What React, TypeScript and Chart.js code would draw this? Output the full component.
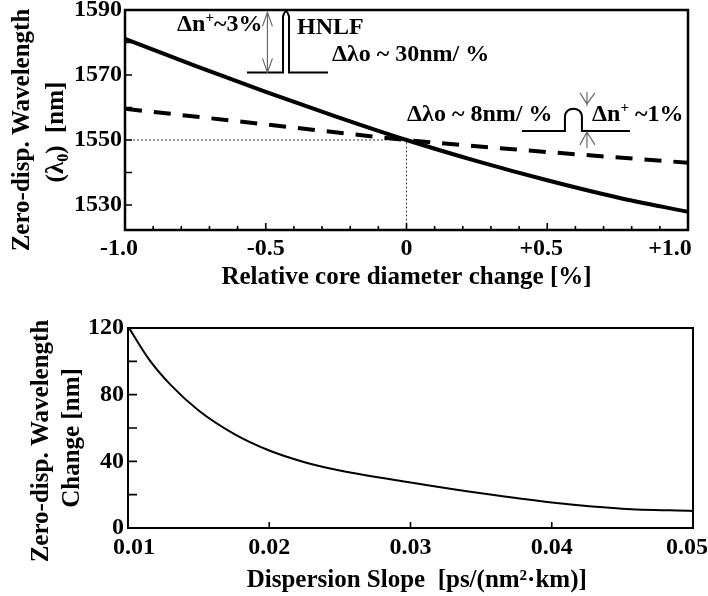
import React, { useEffect, useRef } from 'react';
import { Chart, registerables } from 'chart.js';

Chart.register(...registerables);

const FONT = '"Liberation Serif", "Times New Roman", Times, serif';

// ---------- Top panel data ----------
const coreChange = [-1.0, -0.75, -0.5, -0.25, 0, 0.25, 0.5, 0.75, 1.0];
const hnlfLambda0 = [1581.1, 1572.8, 1564.8, 1557.2, 1550.0, 1543.5, 1537.6, 1532.3, 1527.9];
const coreChangeLow = [-1.0, -0.5, 0, 0.5, 1.0];
const lowIndexLambda0 = [1559.6, 1554.8, 1550.0, 1546.3, 1543.0];
const TOP_Y_MIN = 1522.3;
const TOP_Y_MAX = 1590;
const refCore = [-1.0, 0, 0];
const refLambda0 = [1550, 1550, TOP_Y_MIN];

const topXTicks = [-1.0, -0.5, 0, 0.5, 1.0];
const topXTickLabels = ['-1.0\u2002', '-0.5', '0', '+0.5\u2002', '+1.0\u2002\u2002\u2002'];
const topXMajorMarks = [-0.5, 0, 0.5];
const topXMinorMarks = [-0.9, -0.8, -0.7, -0.6, -0.4, -0.3, -0.2, -0.1, 0.1, 0.2, 0.3, 0.4, 0.6, 0.7, 0.8, 0.9];
const topYTicks = [1530, 1550, 1570, 1590];
const topYTickLabels = ['1530', '1550', '1570', '1590'];
const topYMarks = [1530, 1540, 1550, 1560, 1570, 1580];

// ---------- Bottom panel data ----------
const dispSlope = [0.010, 0.0115, 0.013, 0.015, 0.0175, 0.020, 0.0225, 0.025, 0.030, 0.035, 0.040, 0.045, 0.050];
const lambda0Change = [121, 101, 86, 70.5, 56.5, 46.5, 39.5, 34.5, 27.3, 20.8, 15.3, 11.6, 10.2];
const botXTicks = [0.01, 0.02, 0.03, 0.04, 0.05];
const botXTickLabels = ['\u20020.01', '0.02', '0.03', '0.04', '0.05\u2002'];
const botXMarks = [0.02, 0.03, 0.04];
const botYTicks = [0, 40, 80, 120];
const botYTickLabels = ['0', '40', '80', '120'];
const botYMarks = [20, 40, 60, 80, 100];

type Seg = { t: string; sup?: boolean; sub?: boolean };

// annotation anchors (data coordinates)
const topNotes: { segs: Seg[]; x: number; y: number }[] = [
  { segs: [{ t: 'Δn' }, { t: '+', sup: true }, { t: '~3%' }], x: -0.815, y: 1585.4 },
  { segs: [{ t: 'HNLF' }], x: -0.389, y: 1584.5 },
  { segs: [{ t: 'Δλo ~ 30nm/ %' }], x: -0.265, y: 1576.2 },
  { segs: [{ t: 'Δλo ~ 8nm/ %' }], x: 0.002, y: 1557.7 },
  { segs: [{ t: 'Δn' }, { t: '+', sup: true }, { t: ' ~1%' }], x: 0.659, y: 1557.7 },
];
const hnlfProfileAt = { x: -0.428, y: 1570.8 };
const hnlfArrowAt = { x: -0.494, y: 1570.8 };
const lowProfileAt = { x: 0.593, y: 1552.8 };
const lowArrowsAt = { x: 0.641, y: 1552.8 };

function drawRich(ctx: CanvasRenderingContext2D, segs: Seg[], x: number, y: number, size: number, align: 'left' | 'center') {
  const base = `bold ${size}px ${FONT}`;
  const small = `bold ${Math.round(size * 0.62)}px ${FONT}`;
  let total = 0;
  const widths = segs.map((s) => {
    ctx.font = s.sup || s.sub ? small : base;
    const w = ctx.measureText(s.t).width;
    total += w;
    return w;
  });
  let cx = align === 'center' ? x - total / 2 : x;
  ctx.textBaseline = 'middle';
  ctx.textAlign = 'left';
  ctx.fillStyle = '#000';
  segs.forEach((s, i) => {
    ctx.font = s.sup || s.sub ? small : base;
    const dy = s.sup ? -size * 0.3 : s.sub ? size * 0.28 : 0;
    ctx.fillText(s.t, cx, y + dy);
    cx += widths[i];
  });
}

const fixBox = (w?: number, h?: number) => (s: any) => {
  if (w !== undefined) s.width = w;
  if (h !== undefined) s.height = h;
  s.paddingLeft = 0;
  s.paddingRight = 0;
  s.paddingTop = 0;
  s.paddingBottom = 0;
};

const tickFont = { family: FONT, size: 24, weight: 'bold' as const };
const titleFont = { family: FONT, size: 25, weight: 'bold' as const };

function frameTicksPlugin(o: {
  frame: number;
  xMarks: { v: number[]; len: number }[];
  yMarks: { v: number[]; len: number }[];
}) {
  return {
    id: 'frameTicks',
    afterDraw(chart: any) {
      const { ctx, chartArea: a, scales } = chart;
      const x = scales.x;
      const y = scales.y;
      ctx.save();
      ctx.strokeStyle = '#000';
      ctx.lineWidth = 1.6;
      ctx.beginPath();
      o.xMarks.forEach((g) =>
        g.v.forEach((v) => {
          const px = x.getPixelForValue(v);
          ctx.moveTo(px, a.bottom);
          ctx.lineTo(px, a.bottom - g.len);
        })
      );
      o.yMarks.forEach((g) =>
        g.v.forEach((v) => {
          const py = y.getPixelForValue(v);
          ctx.moveTo(a.left, py);
          ctx.lineTo(a.left + g.len, py);
        })
      );
      ctx.stroke();
      ctx.lineWidth = o.frame;
      ctx.strokeRect(a.left, a.top, a.right - a.left, a.bottom - a.top);
      ctx.restore();
    },
  };
}

function yTitlePlugin(lines: { segs: Seg[]; x: number; y: number }[]) {
  return {
    id: 'yTitle',
    afterDraw(chart: any) {
      const ctx = chart.ctx as CanvasRenderingContext2D;
      lines.forEach((l) => {
        ctx.save();
        ctx.translate(l.x, l.y);
        ctx.rotate(-Math.PI / 2);
        drawRich(ctx, l.segs, 0, 0, 25, 'center');
        ctx.restore();
      });
    },
  };
}

const notesPlugin = {
  id: 'topNotes',
  afterDatasetsDraw(chart: any) {
    const { ctx, scales } = chart;
    const P = (p: { x: number; y: number }) => [scales.x.getPixelForValue(p.x), scales.y.getPixelForValue(p.y)];
    ctx.save();
    topNotes.forEach((n) => {
      const [px, py] = P(n);
      drawRich(ctx, n.segs, px, py, 24, 'left');
    });
    // HNLF index profile
    ctx.strokeStyle = '#000';
    ctx.lineWidth = 2;
    let [ax, ay] = P(hnlfProfileAt);
    ctx.beginPath();
    ctx.moveTo(ax - 39, ay);
    ctx.lineTo(ax - 3, ay);
    ctx.lineTo(ax - 3, ay - 56);
    ctx.quadraticCurveTo(ax, ay - 66, ax + 3, ay - 56);
    ctx.lineTo(ax + 3, ay);
    ctx.lineTo(ax + 42, ay);
    ctx.stroke();
    // low-index profile
    [ax, ay] = P(lowProfileAt);
    ctx.beginPath();
    ctx.moveTo(ax - 51.5, ay);
    ctx.lineTo(ax - 8.5, ay);
    ctx.lineTo(ax - 8.5, ay - 14);
    ctx.bezierCurveTo(ax - 8.5, ay - 25, ax + 8.5, ay - 25, ax + 8.5, ay - 14);
    ctx.lineTo(ax + 8.5, ay);
    ctx.lineTo(ax + 56.5, ay);
    ctx.stroke();
    // arrows
    ctx.strokeStyle = '#6a6a6a';
    ctx.lineWidth = 1.2;
    const [bx, by] = P(hnlfArrowAt);
    ctx.beginPath();
    ctx.moveTo(bx, by);
    ctx.lineTo(bx, by - 60);
    ctx.moveTo(bx - 5, by - 46);
    ctx.lineTo(bx, by - 60);
    ctx.lineTo(bx + 5, by - 46);
    ctx.moveTo(bx - 5, by - 14);
    ctx.lineTo(bx, by);
    ctx.lineTo(bx + 5, by - 14);
    ctx.stroke();
    const [sx, sy] = P(lowArrowsAt);
    ctx.beginPath();
    ctx.moveTo(sx, sy - 39);
    ctx.lineTo(sx, sy - 25);
    ctx.moveTo(sx - 7, sy - 38);
    ctx.lineTo(sx, sy - 27);
    ctx.lineTo(sx + 8, sy - 38);
    ctx.moveTo(sx, sy + 1);
    ctx.lineTo(sx, sy + 17);
    ctx.moveTo(sx - 7, sy + 14);
    ctx.lineTo(sx, sy + 1);
    ctx.lineTo(sx + 8, sy + 14);
    ctx.stroke();
    ctx.restore();
  },
};

function topConfig(): any {
  return {
    type: 'line',
    data: {
      datasets: [
        {
          label: 'HNLF',
          data: coreChange.map((x, i) => ({ x, y: hnlfLambda0[i] })),
          borderColor: '#000',
          borderWidth: 4,
          pointRadius: 0,
          cubicInterpolationMode: 'monotone',
        },
        {
          label: 'Δn+ ~1%',
          data: coreChangeLow.map((x, i) => ({ x, y: lowIndexLambda0[i] })),
          borderColor: '#000',
          borderWidth: 4,
          borderDash: [17, 12],
          pointRadius: 0,
          cubicInterpolationMode: 'monotone',
        },
        {
          label: 'ref',
          data: refCore.map((x, i) => ({ x, y: refLambda0[i] })),
          borderColor: '#444',
          borderWidth: 1,
          borderDash: [2, 2],
          pointRadius: 0,
        },
      ],
    },
    options: {
      responsive: false,
      devicePixelRatio: 1,
      animation: false,
      events: [],
      layout: { padding: { top: 10, right: 20, left: 0, bottom: 0 } },
      plugins: { legend: { display: false }, tooltip: { enabled: false } },
      scales: {
        x: {
          type: 'linear',
          min: -1,
          max: 1,
          grid: { display: false, drawTicks: false },
          border: { display: false },
          afterBuildTicks: (s: any) => {
            s.ticks = topXTicks.map((value) => ({ value }));
          },
          afterFit: fixBox(undefined, 68),
          ticks: {
            autoSkip: false,
            maxRotation: 0,
            padding: 4,
            color: '#000',
            font: tickFont,
            callback: (_v: any, i: number) => topXTickLabels[i],
          },
          title: {
            display: true,
            text: 'Relative core diameter change [%]',
            color: '#000',
            font: titleFont,
            padding: { top: 0, bottom: 5 },
          },
        },
        y: {
          type: 'linear',
          min: TOP_Y_MIN,
          max: TOP_Y_MAX,
          grid: { display: false, drawTicks: false },
          border: { display: false },
          afterBuildTicks: (s: any) => {
            s.ticks = topYTicks.map((value) => ({ value }));
          },
          afterFit: fixBox(125),
          ticks: {
            autoSkip: false,
            padding: 3,
            color: '#000',
            font: tickFont,
            callback: (_v: any, i: number) => topYTickLabels[i],
          },
        },
      },
    },
    plugins: [
      notesPlugin,
      frameTicksPlugin({
        frame: 2.5,
        xMarks: [
          { v: topXMinorMarks, len: 4 },
          { v: topXMajorMarks, len: 7 },
        ],
        yMarks: [{ v: topYMarks, len: 7 }],
      }),
      yTitlePlugin([
        { segs: [{ t: 'Zero-disp. Wavelength' }], x: 23, y: 130 },
        { segs: [{ t: '(λ' }, { t: '0', sub: true }, { t: ')  [nm]' }], x: 57, y: 132 },
      ]),
    ],
  };
}

function botConfig(): any {
  return {
    type: 'line',
    data: {
      datasets: [
        {
          label: 'Zero-disp. wavelength change',
          data: dispSlope.map((x, i) => ({ x, y: lambda0Change[i] })),
          borderColor: '#000',
          borderWidth: 2,
          pointRadius: 0,
          cubicInterpolationMode: 'monotone',
        },
      ],
    },
    options: {
      responsive: false,
      devicePixelRatio: 1,
      animation: false,
      events: [],
      layout: { padding: { top: 30, right: 15, left: 0, bottom: 0 } },
      plugins: { legend: { display: false }, tooltip: { enabled: false } },
      scales: {
        x: {
          type: 'linear',
          min: 0.01,
          max: 0.05,
          grid: { display: false, drawTicks: false },
          border: { display: false },
          afterBuildTicks: (s: any) => {
            s.ticks = botXTicks.map((value) => ({ value }));
          },
          afterFit: fixBox(undefined, 68),
          ticks: {
            autoSkip: false,
            maxRotation: 0,
            padding: 5,
            color: '#000',
            font: tickFont,
            callback: (_v: any, i: number) => botXTickLabels[i],
          },
          title: {
            display: true,
            text: '\u2002Dispersion Slope  [ps/(nm²·km)]',
            color: '#000',
            font: titleFont,
            padding: { top: 0, bottom: 0 },
          },
        },
        y: {
          type: 'linear',
          min: 0,
          max: 120,
          grid: { display: false, drawTicks: false },
          border: { display: false },
          afterBuildTicks: (s: any) => {
            s.ticks = botYTicks.map((value) => ({ value }));
          },
          afterFit: fixBox(128),
          ticks: {
            autoSkip: false,
            padding: 4,
            color: '#000',
            font: tickFont,
            callback: (_v: any, i: number) => botYTickLabels[i],
          },
        },
      },
    },
    plugins: [
      frameTicksPlugin({
        frame: 2,
        xMarks: [{ v: botXMarks, len: 6 }],
        yMarks: [{ v: botYMarks, len: 9 }],
      }),
      yTitlePlugin([
        { segs: [{ t: 'Zero-disp. Wavelength' }], x: 42, y: 143 },
        { segs: [{ t: 'Change [nm]' }], x: 73, y: 140 },
      ]),
    ],
  };
}

export default function App() {
  const topRef = useRef<HTMLCanvasElement>(null);
  const botRef = useRef<HTMLCanvasElement>(null);
  useEffect(() => {
    const top = new Chart(topRef.current as HTMLCanvasElement, topConfig());
    const bot = new Chart(botRef.current as HTMLCanvasElement, botConfig());
    return () => {
      top.destroy();
      bot.destroy();
    };
  }, []);
  return (
    <div style={{ position: 'absolute', left: 0, top: 0, width: 708, height: 596, background: '#fff' }}>
      <canvas ref={topRef} width={708} height={298} style={{ display: 'block', width: 708, height: 298 }} />
      <canvas ref={botRef} width={708} height={298} style={{ display: 'block', width: 708, height: 298 }} />
    </div>
  );
}
